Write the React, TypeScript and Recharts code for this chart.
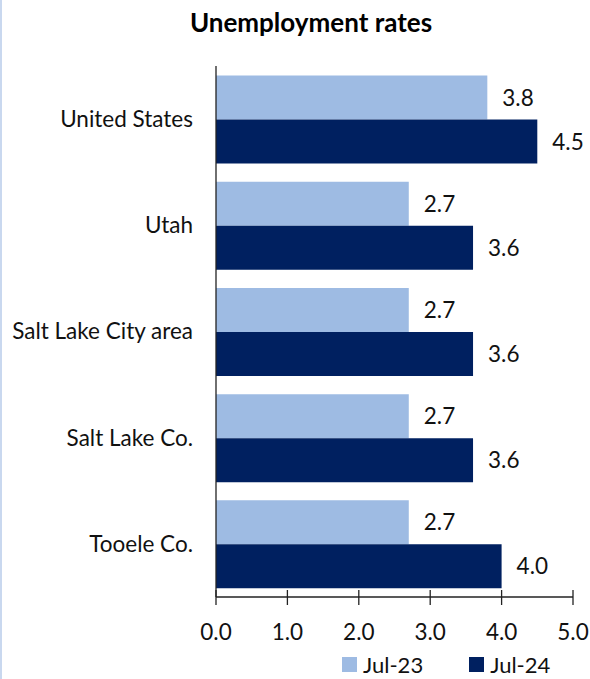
import React from "react";
import { BarChart, Bar, XAxis, YAxis, LabelList } from "recharts";

const categories = ["United States", "Utah", "Salt Lake City area", "Salt Lake Co.", "Tooele Co."];
const jul23 = [3.8, 2.7, 2.7, 2.7, 2.7];
const jul24 = [4.5, 3.6, 3.6, 3.6, 4.0];
const xTicks = [0, 1, 2, 3, 4, 5];
const seriesNames = ["Jul-23", "Jul-24"];

const LIGHT = "#9EBBE3";
const DARK = "#002060";
const FONT = "Lato, 'Open Sans', sans-serif";
const PLOT_BOTTOM = 597;
const FS = 22.5;

const data = categories.map((name, i) => ({ name, a: jul23[i], b: jul24[i] }));

const XTick = (props: any) => {
  const { x, payload } = props;
  return (
    <g>
      <line x1={x} x2={x} y1={PLOT_BOTTOM - 7} y2={PLOT_BOTTOM + 8} stroke="#222" strokeWidth={1.3} />
      <text x={x} y={PLOT_BOTTOM + 43} textAnchor="middle" fontSize={FS} fontFamily={FONT} fill="#111">
        {Number(payload.value).toFixed(1)}
      </text>
    </g>
  );
};

const fmt = (v: any) => Number(v).toFixed(1);

export default function App() {
  return (
    <div style={{ position: "absolute", left: 0, top: 0, width: 590, height: 679, background: "#fff", fontFamily: FONT }}>
      <div style={{ position: "absolute", left: 0, top: 0, width: 2, height: 679, background: "#C9D8EF" }} />
      <div
        style={{
          position: "absolute",
          left: 0,
          width: 622,
          top: 6,
          textAlign: "center",
          fontWeight: 700,
          fontSize: 26,
          color: "#000",
        }}
      >
        Unemployment rates
      </div>
      <div style={{ position: "absolute", left: 0, top: 0 }}>
        <BarChart
          width={590}
          height={679}
          data={data}
          layout="vertical"
          margin={{ top: 66, right: 17, bottom: 0, left: 0 }}
          barCategoryGap="9%"
          barGap={0}
        >
          <XAxis
            type="number"
            domain={[0, 5]}
            ticks={xTicks}
            interval={0}
            tickLine={false}
            axisLine={{ stroke: "#222", strokeWidth: 1.3 }}
            tick={<XTick />}
            height={679 - PLOT_BOTTOM}
          />
          <YAxis
            type="category"
            dataKey="name"
            width={216}
            tickLine={false}
            tickSize={0}
            tickMargin={23}
            axisLine={{ stroke: "#222", strokeWidth: 1.3 }}
            tick={{ fontSize: FS, fontFamily: FONT, fill: "#111" }}
            interval={0}
          />
          <Bar dataKey="a" name={seriesNames[0]} fill={LIGHT} isAnimationActive={false}>
            <LabelList dataKey="a" position="right" offset={15} formatter={fmt} style={{ fontSize: FS, fontFamily: FONT, fill: "#111" }} />
          </Bar>
          <Bar dataKey="b" name={seriesNames[1]} fill={DARK} isAnimationActive={false}>
            <LabelList dataKey="b" position="right" offset={15} formatter={fmt} style={{ fontSize: FS, fontFamily: FONT, fill: "#111" }} />
          </Bar>
        </BarChart>
      </div>
      <div style={{ position: "absolute", left: 342, top: 651, display: "flex", alignItems: "center", fontSize: 22, color: "#111" }}>
        <span style={{ width: 15, height: 15, background: LIGHT, display: "inline-block", marginRight: 6 }} />
        <span>{seriesNames[0]}</span>
        <span style={{ width: 15, height: 15, background: DARK, display: "inline-block", marginLeft: 46, marginRight: 6 }} />
        <span>{seriesNames[1]}</span>
      </div>
    </div>
  );
}
